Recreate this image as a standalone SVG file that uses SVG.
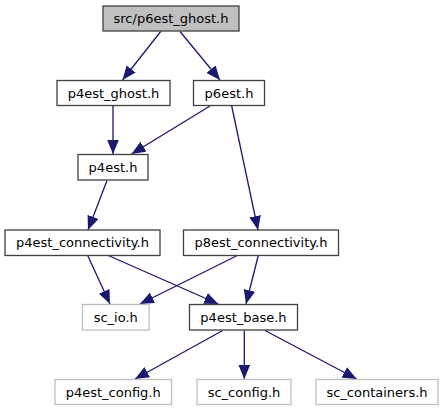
<svg xmlns="http://www.w3.org/2000/svg" width="444" height="411" viewBox="0 0 444 411">
<style>
.n rect{fill:#ffffff;stroke:#404040;stroke-width:1.3}
.g rect{fill:#ffffff;stroke:#bfbfbf;stroke-width:1.3}
.top rect{fill:#bfbfbf;stroke:#404040;stroke-width:1.3}
text{font-family:"DejaVu Sans",sans-serif;font-size:13px;fill:#000000;text-anchor:middle}
.e line{stroke:#191970;stroke-width:1.3;marker-end:url(#arr)}
</style>
<defs>
<marker id="arr" markerUnits="userSpaceOnUse" markerWidth="14" markerHeight="12" refX="12" refY="5" orient="auto" viewBox="0 0 12 10">
<path d="M0,0 L12,5 L0,10 Z" fill="#191970"/>
</marker>
</defs>
<rect width="444" height="411" fill="#ffffff"/>
<g class="e" id="edges">
<line x1="160.7" y1="31.5" x2="122.5" y2="80"/>
<line x1="180" y1="31.5" x2="220" y2="80"/>
<line x1="113" y1="106" x2="113" y2="154"/>
<line x1="210" y1="106" x2="131.5" y2="154"/>
<line x1="231.7" y1="106" x2="258" y2="230"/>
<line x1="107" y1="180.5" x2="88" y2="230"/>
<line x1="87.7" y1="255.5" x2="110" y2="304"/>
<line x1="108.3" y1="255.5" x2="218.3" y2="304"/>
<line x1="237.3" y1="255.5" x2="140" y2="304"/>
<line x1="258.3" y1="255.5" x2="246" y2="304"/>
<line x1="222.7" y1="330.5" x2="135" y2="379"/>
<line x1="244.3" y1="330.5" x2="244.3" y2="379"/>
<line x1="265" y1="330.5" x2="356.7" y2="379"/>
</g>
<g id="node_top" class="top"><rect x="103" y="6" width="136" height="25"/><text x="171" y="23">src/p6est_ghost.h</text></g>
<g id="node_p4est_ghost" class="n"><rect x="57" y="80.5" width="113" height="25"/><text x="113.5" y="97.5">p4est_ghost.h</text></g>
<g id="node_p6est" class="n"><rect x="193.5" y="80.5" width="71" height="25"/><text x="229" y="97.5">p6est.h</text></g>
<g id="node_p4est" class="n"><rect x="78" y="154.5" width="70" height="25.5"/><text x="113" y="171.5">p4est.h</text></g>
<g id="node_p4est_conn" class="n"><rect x="5" y="230" width="155" height="25.5"/><text x="82.5" y="247">p4est_connectivity.h</text></g>
<g id="node_p8est_conn" class="n"><rect x="183.5" y="230" width="155" height="25.5"/><text x="261" y="247">p8est_connectivity.h</text></g>
<g id="node_sc_io" class="g"><rect x="82.5" y="304.5" width="66.5" height="25.5"/><text x="115.7" y="321.5">sc_io.h</text></g>
<g id="node_p4est_base" class="n"><rect x="189.5" y="304.5" width="108" height="25.5"/><text x="243.5" y="321.5">p4est_base.h</text></g>
<g id="node_p4est_config" class="g"><rect x="55" y="379.5" width="116.5" height="25"/><text x="113.2" y="396.5">p4est_config.h</text></g>
<g id="node_sc_config" class="g"><rect x="197" y="379.5" width="94" height="25"/><text x="244" y="396.5">sc_config.h</text></g>
<g id="node_sc_containers" class="g"><rect x="316" y="379.5" width="122" height="25"/><text x="377" y="396.5">sc_containers.h</text></g>
</svg>
